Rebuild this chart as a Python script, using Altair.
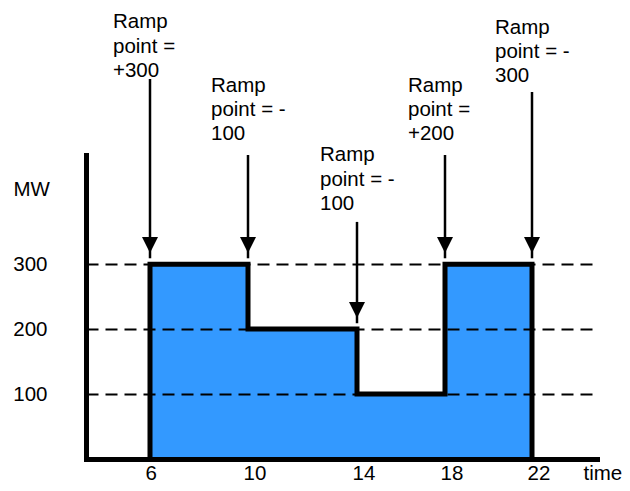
import altair as alt
import pandas as pd

# ---- data ----
times = [6, 10, 14, 18, 22]          # hours where the schedule changes
mw_levels = [300, 200, 100, 300, 0]  # MW level that starts at each time
x_ticks = [6, 10, 14, 18, 22]
y_ticks = [100, 200, 300]
label_mw = [663, 565, 458, 565, 655]      # height (MW units) of first line of each note
arrow_top_mw = [585, 468, 365, 468, 565]  # where each arrow starts (MW units)

FONT = "Liberation Sans"
FS = 20.5

prev = [0] + mw_levels[:-1]
ramps = [m - p for m, p in zip(mw_levels, prev)]


def note(r):
    return "Ramp\npoint =\n+%d" % r if r > 0 else "Ramp\npoint = -\n%d" % (-r)


notes = pd.DataFrame({
    "time": times,
    "label": [note(r) for r in ramps],
    "ly": label_mw,
    "top": arrow_top_mw,
    "tip": [max(m, p) + 17 for m, p in zip(mw_levels, prev)],
})
notes["shaft_end"] = notes["tip"] - 8

area_df = pd.DataFrame({"time": times, "MW": mw_levels})
line_df = pd.DataFrame({
    "time": [times[0]] + times,
    "MW": [0] + mw_levels,
    "idx": list(range(len(times) + 1)),
})

x_scale = alt.Scale(domain=[4, 6, 10, 14, 18, 22, 24.5],
                    range=[0, 64, 162, 271, 359, 446, 511],
                    nice=False, zero=False)
y_scale = alt.Scale(domain=[0, 468], nice=False, zero=True)

x_axis = alt.Axis(values=x_ticks, grid=False, ticks=False, tickSize=0,
                  domainColor="black", domainWidth=5, domainCap="square",
                  labelPadding=4, labelAlign="left", labelOffset=-5, labelBaseline="top",
                  labelFont=FONT, labelFontSize=FS, labelColor="black",
                  labelFlush=False, labelOverlap=False,
                  title="time", titleX=497, titleY=20, titleAlign="left",
                  titleBaseline="alphabetic", titleAngle=0, titleFont=FONT,
                  titleFontSize=FS, titleFontWeight="normal", titleColor="black",
                  zindex=1)
y_axis = alt.Axis(values=y_ticks, grid=True, gridDash=[12, 7], gridColor="black",
                  gridWidth=1.8, gridOpacity=1, ticks=False, tickSize=0,
                  domainColor="black", domainWidth=5, domainCap="square",
                  labelPadding=39, labelFont=FONT, labelFontSize=FS, labelColor="black",
                  labelOverlap=False, labelFlush=False,
                  title="MW", titleAngle=0, titleAlign="left", titleBaseline="alphabetic",
                  titleX=-73, titleY=40, titleFont=FONT, titleFontSize=FS,
                  titleFontWeight="normal", titleColor="black", zindex=1)


def X(field="time"):
    return alt.X(f"{field}:Q", scale=x_scale, axis=x_axis)


def Y(field):
    return alt.Y(f"{field}:Q", scale=y_scale, axis=y_axis)


area = alt.Chart(area_df).mark_area(interpolate="step-after", color="#3399FF").encode(
    x=X(), y=Y("MW"))

outline = alt.Chart(line_df).mark_line(
    interpolate="step-after", color="black", strokeWidth=5, strokeJoin="miter"
).encode(x=X(), y=Y("MW"), order="idx:Q")

shafts = alt.Chart(notes).mark_rule(color="black", strokeWidth=2.5).encode(
    x=X(), y=Y("top"), y2="shaft_end:Q")

heads = alt.Chart(notes).mark_point(
    shape="M-1,-2L1,-2L0,0Z", filled=True, size=256, color="black", opacity=1,
    strokeWidth=0
).encode(x=X(), y=Y("tip"))

texts = alt.Chart(notes).mark_text(
    align="left", baseline="alphabetic", dx=-37, font=FONT, fontSize=FS,
    lineBreak="\n", lineHeight=24.2, color="black"
).encode(x=X(), y=Y("ly"), text="label:N")

chart = alt.layer(area, outline, shafts, heads, texts).properties(
    width=511, height=304,
    padding={"left": 78, "top": 147, "right": 25, "bottom": 24},
    autosize=alt.AutoSizeParams(type="none"),
    background="white",
).configure_view(stroke=None)

chart.save("out.html", embed_options={"renderer": "svg", "actions": False})
